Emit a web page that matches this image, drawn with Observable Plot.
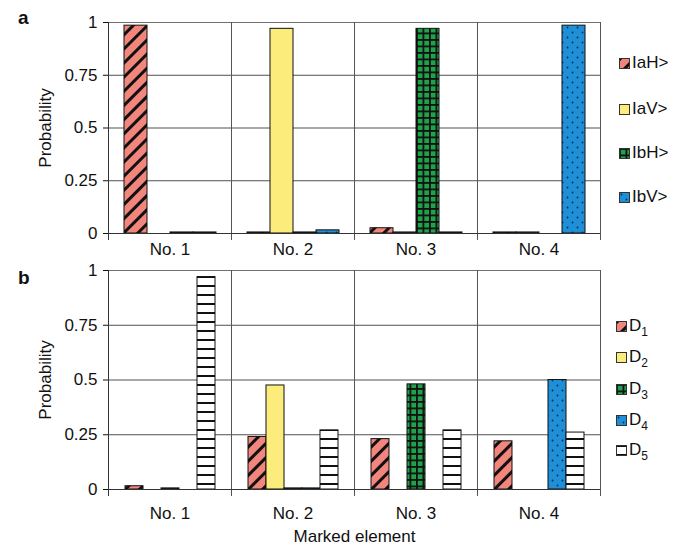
<!DOCTYPE html>
<html><head><meta charset="utf-8">
<script src="https://cdn.jsdelivr.net/npm/d3@7"></script>
<script src="https://cdn.jsdelivr.net/npm/@observablehq/plot@0.6"></script>
<style>
body{margin:0;background:#fff;font-family:"Liberation Sans",Arial,sans-serif;}
#fig{position:relative;width:685px;height:548px;overflow:hidden;background:#fff;}
.panel{position:absolute;left:0;}
.letter{position:absolute;font-weight:bold;font-size:19px;line-height:20px;color:#111;}
.item{position:absolute;display:flex;align-items:center;white-space:nowrap;font-size:17px;height:20px;color:#111;}
.item svg{margin-right:2px;}
.sub{font-size:12px;position:relative;top:6px;}
</style></head>
<body>
<svg width="0" height="0" style="position:absolute">
<defs>
<pattern id="pPink" patternUnits="userSpaceOnUse" width="10" height="10" patternTransform="rotate(45)">
  <rect width="10" height="10" fill="#f2857c"/>
  <rect x="0" y="0" width="3" height="10" fill="#111"/>
</pattern>
<pattern id="pGreen" patternUnits="userSpaceOnUse" width="6.5" height="6.5">
  <rect width="6.5" height="6.5" fill="#1fa24c"/>
  <rect width="6.5" height="1.8" fill="#111"/>
  <rect width="1.8" height="6.5" fill="#111"/>
</pattern>
<pattern id="pBlue" patternUnits="userSpaceOnUse" width="10" height="10">
  <rect width="10" height="10" fill="#1f8fd8"/>
  <circle cx="2.5" cy="2.5" r="0.9" fill="#0b2d4d"/>
  <circle cx="7.5" cy="7.5" r="0.9" fill="#0b2d4d"/>
</pattern>
<pattern id="pWhite" patternUnits="userSpaceOnUse" width="8" height="9">
  <rect width="8" height="9" fill="#fff"/>
  <rect y="0" width="8" height="2" fill="#111"/>
</pattern>
</defs></svg>
<div id="fig"></div>
<script>
// ---- data ----
const categories = ["No. 1", "No. 2", "No. 3", "No. 4"];
const yTicks = [0, 0.25, 0.5, 0.75, 1];

const seriesA = ["IaH>", "IaV>", "IbH>", "IbV>"];
const IaH = [0.985, 0.005, 0.025, 0.005];
const IaV = [0, 0.97, 0.005, 0.005];
const IbH = [0.005, 0.005, 0.97, 0];
const IbV = [0.005, 0.015, 0.005, 0.985];

const seriesB = ["D1", "D2", "D3", "D4", "D5"];
const D1 = [0.015, 0.24, 0.23, 0.22];
const D2 = [0, 0.475, 0, 0];
const D3 = [0.005, 0.005, 0.48, 0];
const D4 = [0, 0.005, 0, 0.5];
const D5 = [0.97, 0.27, 0.27, 0.26];

// ---- styles ----
const fillA = {"IaH>": "url(#pPink)", "IaV>": "#fcec7c", "IbH>": "url(#pGreen)", "IbV>": "url(#pBlue)"};
const fillB = {D1: "url(#pPink)", D2: "#fcec7c", D3: "url(#pGreen)", D4: "url(#pBlue)", D5: "url(#pWhite)"};

function rows(series, arrays) {
  return series.flatMap((s, j) => categories.map((c, i) => ({cat: c, series: s, value: arrays[j][i]})));
}
const dataA = rows(seriesA, [IaH, IaV, IbH, IbV]);
const dataB = rows(seriesB, [D1, D2, D3, D4, D5]);

const font = {fontFamily: "Liberation Sans, Arial, sans-serif", fontSize: "17px", color: "#111", background: "transparent"};

function panel(data, series, fills, opts) {
  return Plot.plot({
    width: 685, height: opts.height,
    marginLeft: 107, marginRight: 85, marginTop: opts.marginTop, marginBottom: opts.marginBottom,
    style: font,
    fx: {domain: categories, padding: 0, label: opts.xLabel, labelAnchor: "center", labelOffset: opts.labelOffset, tickSize: 0, tickPadding: opts.tickPadding},
    x: {domain: series, paddingInner: 0, paddingOuter: opts.pad, axis: null},
    y: {domain: [0, 1], ticks: yTicks, tickFormat: d3.format("~g"), tickSize: 5, tickPadding: 6,
        label: "Probability", labelAnchor: "center", labelArrow: "none", labelOffset: 70},
    marks: [
      Plot.gridY([0.25, 0.5, 0.75], {stroke: "#505050", strokeOpacity: 1}),
      Plot.frame({stroke: "#707070"}),
      Plot.frame({anchor: "left", stroke: "#333", insetBottom: -6}),
      Plot.frame({anchor: "right", stroke: "#555", insetBottom: -6}),
      ...series.map(s => Plot.barY(data.filter(d => d.series === s && d.value > 0),
        {fx: "cat", x: "series", y: "value", fill: fills[s], stroke: "#111", strokeWidth: 1})),
      Plot.ruleY([0], {stroke: "#333"})
    ]
  });
}

const fig = document.getElementById("fig");
const pa = panel(dataA, seriesA, fillA, {height: 265, marginTop: 22, marginBottom: 32, pad: 0.67, tickPadding: 9, xLabel: null, labelOffset: 0});
pa.classList.add("panel"); pa.style.top = "0px";
fig.appendChild(pa);
const pb = panel(dataB, seriesB, fillB, {height: 290, marginTop: 12, marginBottom: 59, pad: 0.83, tickPadding: 17, xLabel: "Marked element", labelOffset: 52});
pb.classList.add("panel"); pb.style.top = "258px";
fig.appendChild(pb);

function letter(t, top) {
  const d = document.createElement("div");
  d.className = "letter"; d.textContent = t; d.style.left = "18px"; d.style.top = top + "px";
  fig.appendChild(d);
}
letter("a", 8); letter("b", 268);

function legend(items, fills, left, centers, labelFn) {
  items.forEach((s, i) => {
    const d = document.createElement("div");
    d.className = "item";
    d.style.left = left + "px"; d.style.top = (centers[i] - 10) + "px";
    d.innerHTML = `<svg width="11" height="11"><rect x="0.5" y="0.5" width="10" height="10" fill="${fills[s]}" stroke="#333"/></svg>` + labelFn(s);
    fig.appendChild(d);
  });
}
legend(seriesA, fillA, 619, [63, 109, 153, 197], s => s);
legend(seriesB, fillB, 616, [326, 357, 389, 420, 450], s => `D<span class="sub">${s.slice(1)}</span>`);
</script>
</body></html>
